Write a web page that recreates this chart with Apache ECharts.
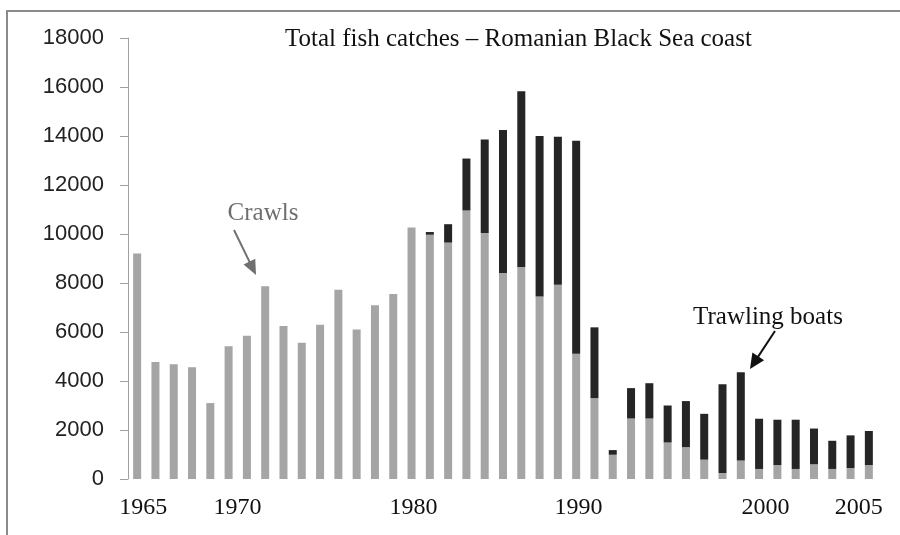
<!DOCTYPE html>
<html>
<head>
<meta charset="utf-8">
<script src="https://cdn.jsdelivr.net/npm/echarts@6/dist/echarts.min.js"></script>
<style>
html,body{margin:0;padding:0;background:#fff;}
#c{width:900px;height:535px;}
</style>
</head>
<body>
<div id="c"></div>
<script>
// ---- data ----
var years = ['1965','1966','1967','1968','1969','1970','1971','1972','1973','1974',
  '1975','1976','1977','1978','1979','1980','1981','1982','1983','1984',
  '1985','1986','1987','1988','1989','1990','1991','1992','1993','1994',
  '1995','1996','1997','1998','1999','2000','2001','2002','2003','2004','2005'];
var crawls = [9200,4780,4680,4560,3100,5420,5850,7870,6240,5560,
  6300,7720,6100,7090,7550,10270,9970,9650,10960,10040,
  8410,8650,7450,7930,5110,3300,990,2470,2470,1490,
  1300,790,250,760,410,570,410,600,410,450,570];
var totals = [9200,4780,4680,4560,3100,5420,5850,7870,6240,5560,
  6300,7720,6100,7090,7550,10270,10080,10400,13080,13860,
  14240,15830,14000,13970,13810,6190,1180,3710,3910,3000,
  3180,2660,3870,4360,2460,2420,2420,2060,1560,1780,1960];
var trawling = totals.map(function(t,i){ return t - crawls[i]; });
var shownYears = ['1965','1970','1980','1990','2000','2005'];
var yTicks = [0,2000,4000,6000,8000,10000,12000,14000,16000,18000];
var titleText = 'Total fish catches \u2013 Romanian Black Sea coast';

// ---- styling ----
var labelShift = {'1965':6,'1970':9,'1980':2,'1990':-16,'2000':-12,'2005':-10};
var serif = '"Liberation Serif","Times New Roman",serif';
var sans = '"Liberation Sans",Arial,sans-serif';
var rich = {};
shownYears.forEach(function(y){
  var d = labelShift[y] || 0;
  rich['y'+y] = {
    fontFamily: serif, fontSize: 24, color: '#111',
    padding: d >= 0 ? [0,0,0,2*d] : [0,-2*d,0,0]
  };
});

function arrow(x1,y1,x2,y2,color,headLen,headW){
  var dx=x2-x1, dy=y2-y1, L=Math.sqrt(dx*dx+dy*dy);
  var ux=dx/L, uy=dy/L, px=-uy, py=ux;
  var bx=x2-ux*headLen, by=y2-uy*headLen;
  return [
    {type:'line', shape:{x1:x1,y1:y1,x2:bx+ux*2,y2:by+uy*2}, style:{stroke:color,lineWidth:2}, silent:true},
    {type:'polygon', shape:{points:[[x2,y2],[bx+px*headW,by+py*headW],[bx-px*headW,by-py*headW]]}, style:{fill:color}, silent:true}
  ];
}

var chart = echarts.init(document.getElementById('c'), null, {renderer:'canvas'});
var graphics = [
  {type:'rect', shape:{x:7,y:11,width:920,height:560}, style:{fill:'none',stroke:'#8a8a8a',lineWidth:2}, silent:true, z:-10},
  {type:'text', style:{text:'Crawls', x:263, y:213, textAlign:'center', textVerticalAlign:'middle',
    font:'25px ' + serif, fill:'#6e6e6e'}, silent:true},
  {type:'text', style:{text:'Trawling boats', x:768, y:317, textAlign:'center', textVerticalAlign:'middle',
    font:'25px ' + serif, fill:'#111'}, silent:true}
].concat(arrow(234,230,256,275,'#707070',15,6.5)).concat(arrow(775,331,750,369,'#111',15,7));

chart.setOption({
  animation:false,
  backgroundColor:'#ffffff',
  title:{
    text:titleText, left:280, top:22,
    textStyle:{fontFamily:serif, fontSize:25, fontWeight:'normal', color:'#111'}
  },
  grid:{left:128, right:22, top:38, bottom:56, containLabel:false},
  xAxis:{
    type:'category', data:years,
    axisLine:{show:false}, axisTick:{show:false},
    axisLabel:{
      interval:0, margin:17,
      formatter:function(v){ return shownYears.indexOf(v) >= 0 ? '{y'+v+'|'+v+'}' : ''; },
      rich:rich
    }
  },
  yAxis:{
    type:'value', min:yTicks[0], max:yTicks[yTicks.length-1], interval:2000,
    splitLine:{show:false},
    axisLine:{show:true, lineStyle:{color:'#a0a0a0', width:1}},
    axisTick:{show:true, length:8, lineStyle:{color:'#a0a0a0'}},
    axisLabel:{margin:24, fontFamily:sans, fontSize:22, color:'#222',
      formatter:function(v){ return String(v); }}
  },
  series:[
    {name:'Crawls', type:'bar', stack:'t', data:crawls, barWidth:8,
      itemStyle:{color:'#a5a5a5'}},
    {name:'Trawling boats', type:'bar', stack:'t', data:trawling, barWidth:8,
      itemStyle:{color:'#252525'}}
  ],
  graphic:graphics
});
</script>
</body>
</html>
